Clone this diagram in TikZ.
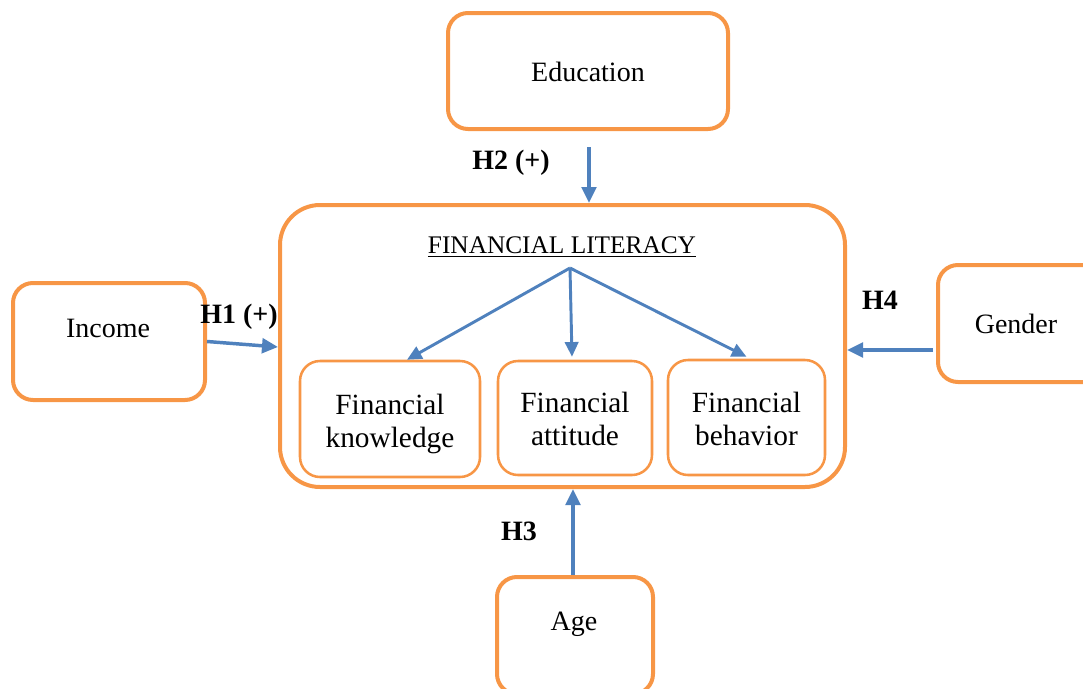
\documentclass[tikz,border=0pt]{standalone}
\usepackage{fontspec}
\setmainfont{Liberation Serif}
\usetikzlibrary{arrows.meta,calc}
\definecolor{org}{HTML}{F79646}
\definecolor{blu}{HTML}{4F81BD}
\begin{document}
\begin{tikzpicture}[x=0.75pt,y=-0.75pt,
 outerbox/.style={draw=org,line width=3pt,rounded corners=15pt,inner sep=0pt},
 mainbox/.style={draw=org,line width=3pt,rounded corners=30pt,inner sep=0pt},
 innerbox/.style={draw=org,line width=1.9pt,rounded corners=15pt,inner sep=0pt},
 intxt/.style={inner sep=0pt,align=center,font=\fontsize{22}{24.75}\selectfont},
 txt/.style={inner sep=0pt,font=\fontsize{21}{24}\selectfont},
 lbl/.style={inner sep=0pt,font=\fontsize{21}{24}\selectfont\bfseries},
 arr/.style={draw=blu,line width=2.6pt,-{Triangle[length=12pt,width=11pt]}},
 arrthin/.style={draw=blu,line width=2.2pt,-{Triangle[length=11pt,width=10pt]}}
]
\useasboundingbox (0,0) rectangle (1083,689);
\begin{scope}
\clip (0,0) rectangle (1083,689);
% boxes
\node[outerbox,minimum width=210pt,minimum height=87pt] (edu) at (588,71) {};
\node[txt] (edut) at (588,72) {Education};
\node[mainbox,minimum width=423.75pt,minimum height=211.5pt] (big) at (562.5,346) {};
\node[outerbox,minimum width=144pt,minimum height=87.75pt] (inc) at (109,341.5) {};
\node[txt] (inct) at (108,328) {Income};
\node[outerbox,minimum width=144pt,minimum height=87.75pt] (gen) at (1034,323.5) {};
\node[txt] (gent) at (1016,324) {Gender};
\node[outerbox,minimum width=117pt,minimum height=87.75pt] (age) at (575,635.5) {};
\node[txt] (aget) at (574,624) {Age};
% inner
\node[innerbox,minimum width=135pt,minimum height=87pt] (k) at (390,419) {};
\node[intxt] (kt) at (390,424) {Financial\\knowledge};
\node[innerbox,minimum width=115.5pt,minimum height=85.5pt] (a) at (575,418) {};
\node[intxt] (at) at (575,419) {Financial\\attitude};
\node[innerbox,minimum width=117.75pt,minimum height=86.25pt] (b) at (746.5,417.5) {};
\node[intxt] (bt) at (746.5,418.5) {Financial\\behavior};
\node[inner sep=0pt,font=\fontsize{19}{22}\selectfont] (title) at (562,247) {\underline{FINANCIAL LITERACY}};
\coordinate (src) at (570,268);
% arrows inside
\draw[arrthin] (src) -- ($(k.north)+(17,0)$);
\draw[arrthin] (src) -- ($(a.north)+(-3,-3)$);
\draw[arrthin] (src) -- ($(b.north)+(0,-2)$);
% hypotheses
\coordinate (h2s) at ($(edu.south)+(1,16)$);
\draw[arr] (h2s) -- (big.north -| h2s);
\node[lbl] (h2) at (511,163) {H2 (+)};
\draw[arr] (inc.east) -- ($(big.west)+(0,1)$);
\node[lbl] (h1) at (239,317) {H1 (+)};
\coordinate (g) at ($(gen.west)+(-3,26.5)$);
\draw[arr] (g) -- (big.east |- g);
\node[lbl] (h4) at (880,300) {H4};
\draw[arr] ($(age.north)+(-2,0)$) -- ($(big.south)+(10.5,0)$);
\node[lbl] (h3) at (519,531) {H3};
\end{scope}
\end{tikzpicture}
\end{document}
